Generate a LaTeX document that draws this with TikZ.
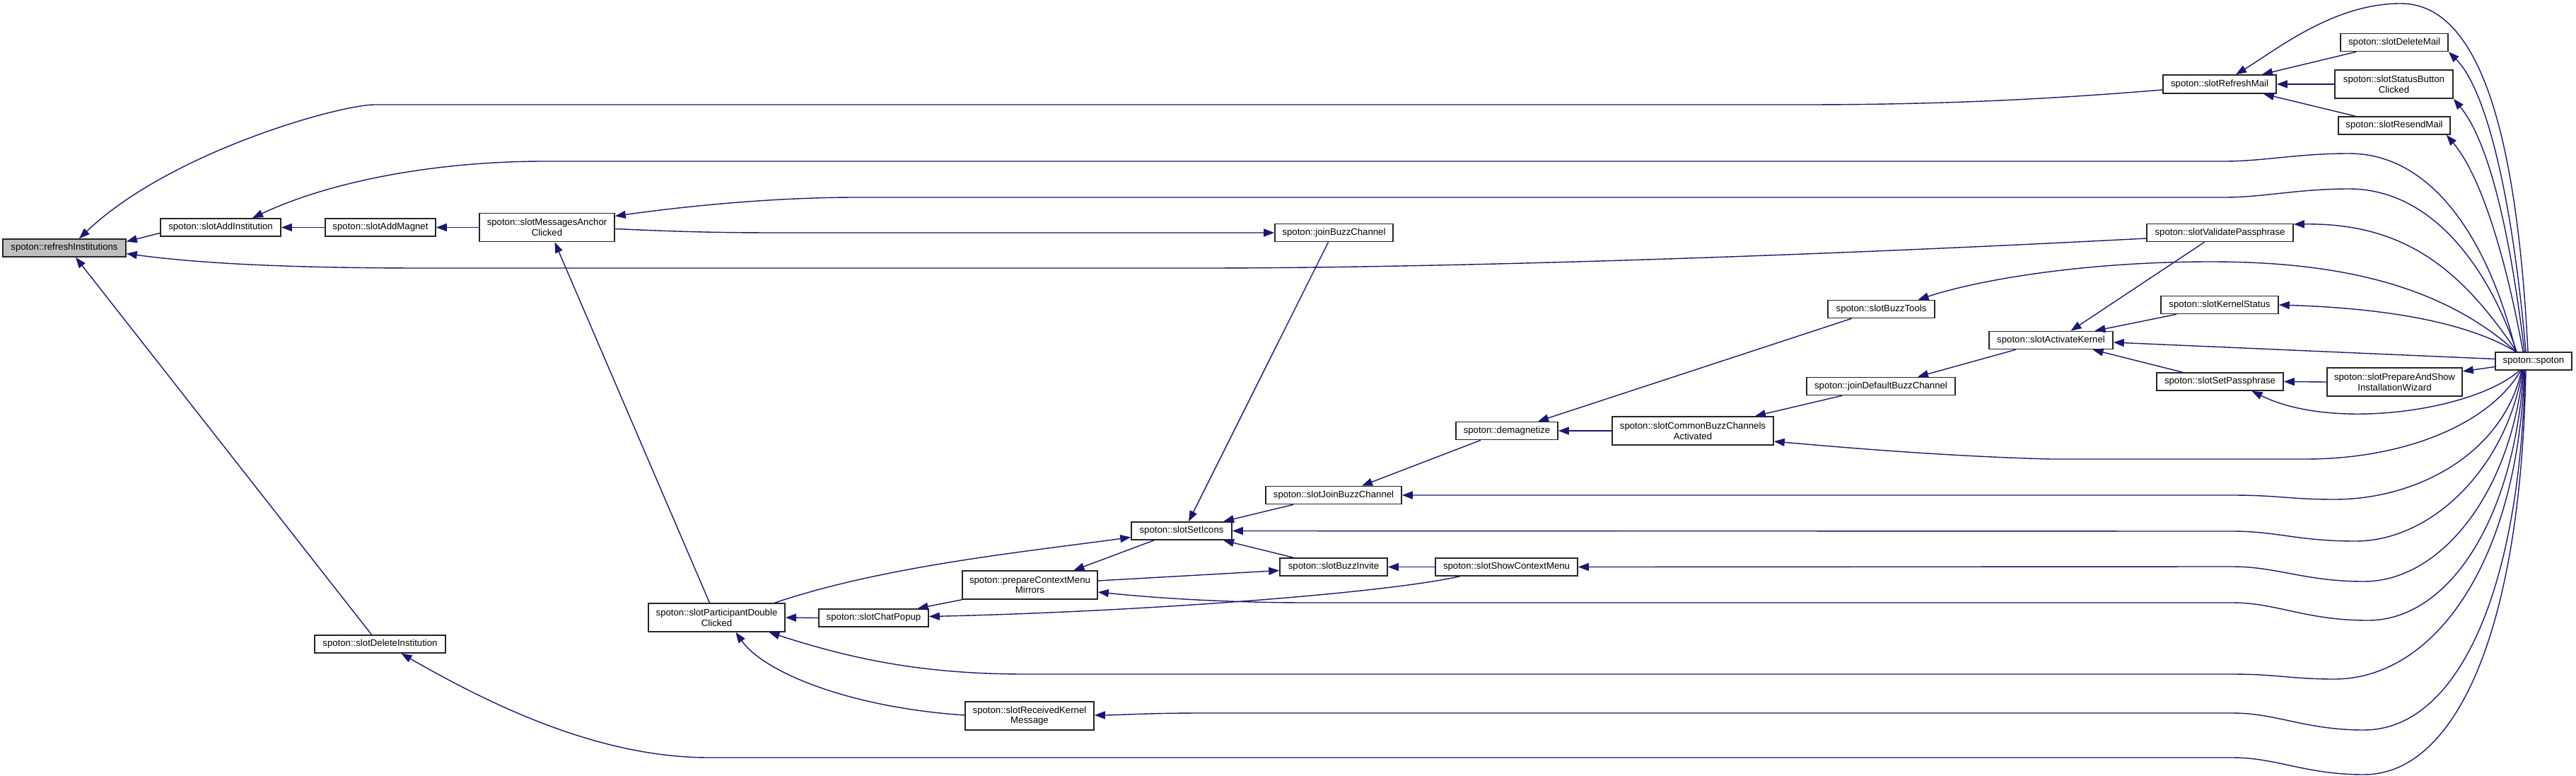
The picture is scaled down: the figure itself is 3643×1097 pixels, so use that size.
\documentclass[tikz,border=0pt]{standalone}
\usepackage{fontspec}
\setmainfont{Liberation Sans}
\usetikzlibrary{arrows.meta,calc}
\definecolor{edgeblue}{RGB}{25,25,112}
\definecolor{hilite}{RGB}{191,191,191}
\begin{document}
\begin{tikzpicture}[x=1pt,y=-1pt,
  fn/.style={draw=black!85,line width=1.6pt,fill=white,inner sep=0pt,align=center,
    font=\fontsize{13.2}{14.7}\selectfont},
  one/.style={minimum height=25pt},
  two/.style={minimum height=40pt},
  edge/.style={draw=edgeblue,line width=1.4pt,-{Triangle[length=15pt,width=11pt]}},
]
\useasboundingbox[fill=white] (0,0) rectangle (3643,1097);

% nodes
\node[fn,one,fill=hilite,minimum width=174pt] (refresh) at (91,350.5) {spoton::refreshInstitutions};
\node[fn,one,minimum width=170pt] (addInst) at (312,321.5) {spoton::slotAddInstitution};
\node[fn,one,minimum width=156pt] (addMagnet) at (538,321.5) {spoton::slotAddMagnet};
\node[fn,two,minimum width=191pt] (msgAnchor) at (773.5,321.5) {spoton::slotMessagesAnchor\\Clicked};
\node[fn,one,minimum width=185pt] (delInst) at (537.5,910.5) {spoton::slotDeleteInstitution};
\node[fn,two,minimum width=193pt] (partDbl) at (1013.5,873) {spoton::slotParticipantDouble\\Clicked};
\node[fn,one,minimum width=155pt] (chatPopup) at (1235.5,873.5) {spoton::slotChatPopup};
\node[fn,two,minimum width=191pt] (prepCtx) at (1456.5,827) {spoton::prepareContextMenu\\Mirrors};
\node[fn,one,minimum width=142pt] (setIcons) at (1671,750.5) {spoton::slotSetIcons};
\node[fn,one,minimum width=152pt] (buzzInvite) at (1886,801.5) {spoton::slotBuzzInvite};
\node[fn,one,minimum width=201pt] (showCtx) at (2130.5,801.5) {spoton::slotShowContextMenu};
\node[fn,one,minimum width=192pt] (slotJoinBuzz) at (1886,700) {spoton::slotJoinBuzzChannel};
\node[fn,one,minimum width=167pt] (joinBuzz) at (1886.5,329) {spoton::joinBuzzChannel};
\node[fn,one,minimum width=144pt] (demag) at (2131,609) {spoton::demagnetize};
\node[fn,two,minimum width=228pt] (commonBuzz) at (2394,609) {spoton::slotCommonBuzzChannels\\Activated};
\node[fn,one,minimum width=210pt] (joinDefault) at (2660,546) {spoton::joinDefaultBuzzChannel};
\node[fn,one,minimum width=151pt] (buzzTools) at (2660.5,437) {spoton::slotBuzzTools};
\node[fn,one,minimum width=175pt] (activateKernel) at (2900.5,481) {spoton::slotActivateKernel};
\node[fn,one,minimum width=166pt] (kernelStatus) at (3139,431) {spoton::slotKernelStatus};
\node[fn,one,minimum width=179pt] (setPass) at (3139.5,539.5) {spoton::slotSetPassphrase};
\node[fn,two,minimum width=191pt] (prepWizard) at (3386.5,540) {spoton::slotPrepareAndShow\\InstallationWizard};
\node[fn,one,minimum width=207pt] (validatePass) at (3139.5,329) {spoton::slotValidatePassphrase};
\node[fn,one,minimum width=160pt,minimum height=26pt] (refreshMail) at (3139,119) {spoton::slotRefreshMail};
\node[fn,one,minimum width=152pt] (deleteMail) at (3386,60) {spoton::slotDeleteMail};
\node[fn,two,minimum width=167pt] (statusBtn) at (3385.5,119) {spoton::slotStatusButton\\Clicked};
\node[fn,one,minimum width=158pt] (resendMail) at (3386,177.5) {spoton::slotResendMail};
\node[fn,two,minimum width=182pt] (recvKernel) at (1456,1012) {spoton::slotReceivedKernel\\Message};
\node[fn,one,minimum width=108pt] (spoton) at (3583,510.5) {spoton::spoton};

% edges (arrow at callee)
\draw[edge] ($(addInst.west)+(0,8)$) -- ($(refresh.east)+(0,-9)$);
\draw[edge] ($(refreshMail.west)+(0,8)$) .. controls (2900,140) and (2750,148) .. (2550,148) -- (530,148) .. controls (480,148) and (240,215) .. ($(refresh.north)+(21,0)$);
\draw[edge] ($(validatePass.west)+(0,8)$) .. controls (2500,365) and (2000,379) .. (1700,379) -- (600,379) .. controls (450,379) and (300,375) .. ($(refresh.east)+(0,8)$);
\draw[edge] ($(delInst.north)+(-12,0)$) -- ($(refresh.south)+(16,0)$);
\draw[edge] (addMagnet.west) -- (addInst.east);
\draw[edge] ($(spoton.north)+(-25,0)$) .. controls (3520,340) and (3440,217) .. (3322,217) .. controls (3250,217) and (3200,228) .. (3146,228) -- (770,228) .. controls (620,228) and (470,255) .. ($(addInst.north)+(45,0)$);
\draw[edge] (msgAnchor.west) -- (addMagnet.east);
\draw[edge] ($(spoton.north)+(-24,0)$) .. controls (3520,380) and (3440,267) .. (3322,267) .. controls (3250,267) and (3200,279) .. (3146,279) -- (1212,279) .. controls (1100,279) and (980,290) .. ($(msgAnchor.east)+(0,-16)$);
\draw[edge] ($(partDbl.north)+(-10,0)$) -- ($(msgAnchor.south)+(11,0)$);
\draw[edge] ($(msgAnchor.east)+(0,2)$) .. controls (950,327) and (1000,329) .. (1100,329) -- (joinBuzz.west);
\draw[edge] ($(joinBuzz.south)+(-8,0)$) -- ($(setIcons.north)+(10,0)$);
\draw[edge] ($(partDbl.north)+(82,0)$) .. controls (1250,800) and (1450,780) .. ($(setIcons.west)+(0,9)$);
\draw[edge] ($(slotJoinBuzz.south)+(-57,0)$) -- ($(setIcons.north)+(59,0)$);
\draw[edge] ($(buzzInvite.north)+(-57,0)$) -- ($(setIcons.south)+(59,0)$);
\draw[edge] ($(setIcons.south)+(-39,0)$) -- ($(prepCtx.north)+(62,0)$);
\draw[edge] ($(prepCtx.east)+(0,-6)$) -- ($(buzzInvite.west)+(0,5)$);
\draw[edge] (prepCtx.south west) -- ($(chatPopup.north)+(62,0)$);
\draw[edge] ($(showCtx.south)+(-66,0)$) .. controls (1950,840) and (1600,865) .. ($(chatPopup.east)+(0,-2)$);
\draw[edge] (chatPopup.west) -- (partDbl.east);
\draw[edge] ($(recvKernel.west)+(0,-1)$) .. controls (1200,1000) and (1080,950) .. ($(partDbl.south)+(27,0)$);
\draw[edge] (showCtx.west) -- (buzzInvite.east);
\draw[edge] ($(demag.south)+(-37,0)$) -- ($(slotJoinBuzz.north)+(40,0)$);
\draw[edge] ($(buzzTools.south)+(-42,0)$) -- ($(demag.north)+(44,0)$);
\draw[edge] (commonBuzz.west) -- (demag.east);
\draw[edge] ($(joinDefault.south)+(-55,0)$) -- ($(commonBuzz.north)+(88,0)$);
\draw[edge] ($(activateKernel.south)+(-50,0)$) -- ($(joinDefault.north)+(52,0)$);
\draw[edge] ($(spoton.north)+(-25,0)$) .. controls (3450,400) and (3300,370) .. (3126,370) .. controls (2950,370) and (2800,395) .. ($(buzzTools.north)+(52,0)$);
\draw[edge] ($(validatePass.south)+(-22,0)$) -- ($(activateKernel.north)+(28,0)$);
\draw[edge] ($(kernelStatus.south)+(-61,0)$) -- ($(activateKernel.north)+(62,0)$);
\draw[edge] ($(spoton.west)+(0,-3)$) -- ($(activateKernel.east)+(0,3)$);
\draw[edge] ($(setPass.north)+(-53,0)$) -- ($(activateKernel.south)+(59,0)$);
\draw[edge] ($(spoton.north)+(-25,0)$) .. controls (3480,450) and (3350,435) .. (kernelStatus.east);
\draw[edge] (prepWizard.west) -- (setPass.east);
\draw[edge] ($(spoton.south)+(-20,0)$) .. controls (3500,580) and (3300,610) .. ($(setPass.south)+(45,0)$);
\draw[edge] ($(spoton.west)+(0,8)$) -- ($(prepWizard.east)+(0,-15)$);
\draw[edge] ($(spoton.north)+(-24,0)$) .. controls (3480,380) and (3400,315) .. ($(validatePass.east)+(0,-12)$);
\draw[edge] ($(deleteMail.south)+(-54,0)$) -- ($(refreshMail.north)+(60,0)$);
\draw[edge] (statusBtn.west) -- (refreshMail.east);
\draw[edge] ($(resendMail.north)+(-55,0)$) -- ($(refreshMail.south)+(62,0)$);
\draw[edge] ($(spoton.north)+(-8,0)$) .. controls (3560,200) and (3510,5) .. (3395,5) .. controls (3300,5) and (3220,70) .. ($(refreshMail.north)+(23,0)$);
\draw[edge] ($(spoton.north)+(-11,0)$) .. controls (3555,300) and (3520,130) .. (deleteMail.south east);
\draw[edge] ($(spoton.north)+(-13,0)$) .. controls (3550,330) and (3520,200) .. (statusBtn.south east);
\draw[edge] ($(spoton.north)+(-15,0)$) .. controls (3545,370) and (3510,250) .. ($(resendMail.south east)+(-6,0)$);
% lower fan from spoton
\draw[edge] ($(spoton.south)+(-18,0)$) .. controls (3520,600) and (3400,649) .. (3260,649) -- (2900,649) .. controls (2750,645) and (2600,632) .. ($(commonBuzz.east)+(0,15)$);
\draw[edge] ($(spoton.south)+(-17,0)$) .. controls (3540,640) and (3420,706) .. (3301,706) .. controls (3240,706) and (3220,700) .. (3157,700) -- (slotJoinBuzz.east);
\draw[edge] ($(spoton.south)+(-16,0)$) .. controls (3545,660) and (3440,765) .. (3331,765) .. controls (3250,765) and (3220,751) .. (3157,751) -- (setIcons.east);
\draw[edge] ($(spoton.south)+(-15,0)$) .. controls (3550,700) and (3450,822) .. (3343,822) .. controls (3260,822) and (3220,801) .. (3157,801) -- (showCtx.east);
\draw[edge] ($(spoton.south)+(-14,0)$) .. controls (3555,740) and (3460,877) .. (3349,877) .. controls (3260,877) and (3220,852) .. (3157,852) -- (1850,852) .. controls (1750,852) and (1650,847) .. ($(prepCtx.east)+(0,10)$);
\draw[edge] ($(spoton.south)+(-13,0)$) .. controls (3560,800) and (3440,960) .. (3301,960) .. controls (3240,960) and (3220,953) .. (3157,953) -- (1450,953) .. controls (1300,953) and (1200,930) .. ($(partDbl.south)+(74,0)$);
\draw[edge] ($(spoton.south)+(-12,0)$) .. controls (3563,850) and (3470,1032) .. (3343,1032) .. controls (3260,1032) and (3220,1008) .. (3157,1008) -- (1700,1008) .. controls (1620,1008) and (1580,1011) .. ($(recvKernel.east)+(0,-1)$);
\draw[edge] ($(spoton.south)+(-11,0)$) .. controls (3565,900) and (3470,1095) .. (3343,1095) .. controls (3260,1095) and (3220,1071) .. (3157,1071) -- (1003,1071) .. controls (850,1071) and (700,1000) .. ($(delInst.south)+(30,0)$);
\end{tikzpicture}
\end{document}
